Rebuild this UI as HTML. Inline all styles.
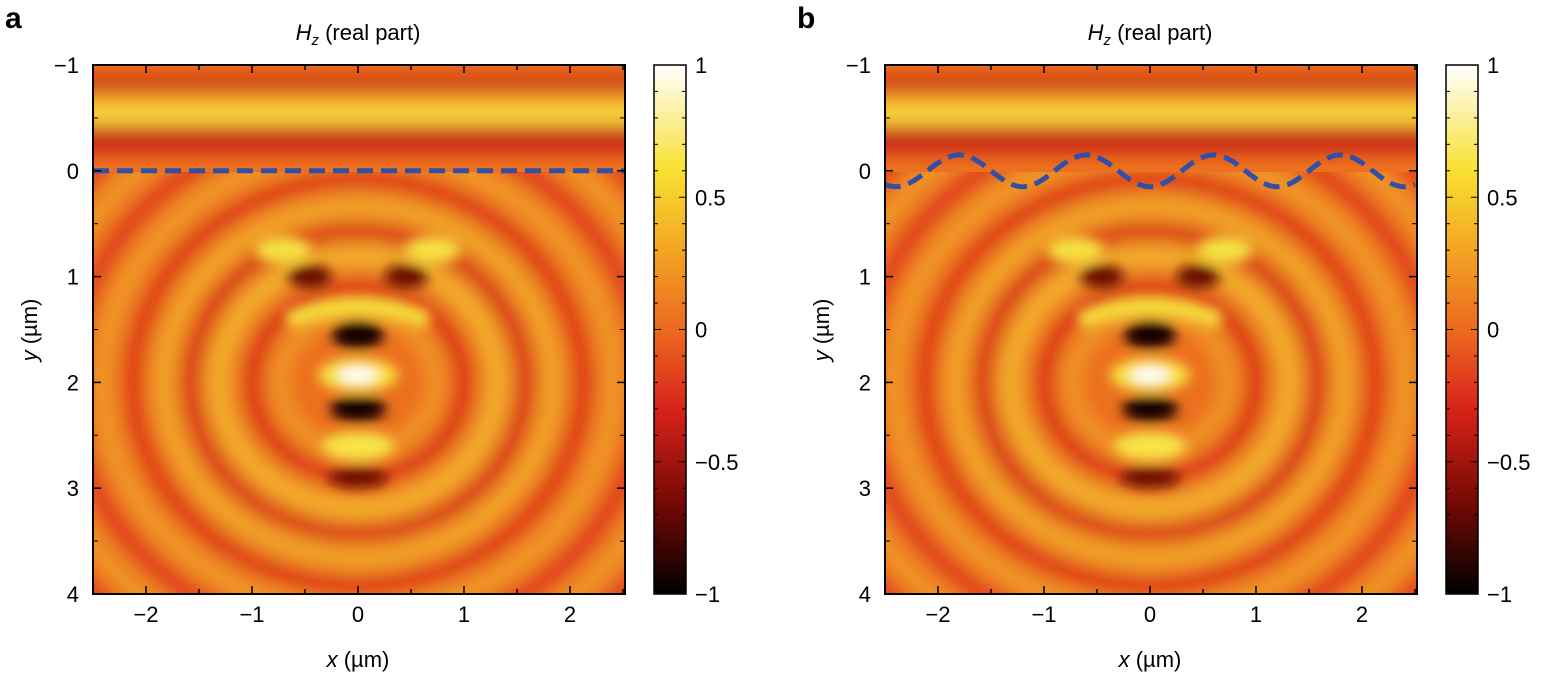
<!DOCTYPE html>
<html><head><meta charset="utf-8"><style>
body{margin:0;background:#fff;}
svg{display:block;font-family:"Liberation Sans",sans-serif;}
</style></head><body>
<svg id="s" width="1549" height="679" xmlns="http://www.w3.org/2000/svg">
<defs>
<filter id="bl" x="-20%" y="-20%" width="140%" height="140%"><feGaussianBlur stdDeviation="9"/></filter>
<filter id="bl2" x="-20%" y="-20%" width="140%" height="140%"><feGaussianBlur stdDeviation="6"/></filter>
<linearGradient id="cb" x1="0" y1="1" x2="0" y2="0">
<stop offset="0" stop-color="#000"/><stop offset="0.18" stop-color="#7a0a05"/>
<stop offset="0.35" stop-color="#d8231a"/><stop offset="0.5" stop-color="#ec6a1f"/>
<stop offset="0.65" stop-color="#f4a524"/><stop offset="0.8" stop-color="#f8e030"/>
<stop offset="1" stop-color="#fff"/></linearGradient>
<clipPath id="ca"><rect x="93" y="65" width="532" height="529"/></clipPath>
<clipPath id="cbp"><rect x="885" y="65" width="532" height="529"/></clipPath>
<clipPath id="ra"><rect x="60" y="172" width="600" height="440"/></clipPath>
<clipPath id="rb"><rect x="850" y="172" width="600" height="440"/></clipPath>
</defs>
</svg>
<script>
const S=document.getElementById('s');let h='';
function panel(X0,clip,rclip,letter,wavy){
 const sx=106,cx=X0+265,Y0=65,sy=105.8;
 const Y=v=>Y0+(v+1)*sy;
 h+=`<g clip-path="url(#${clip})"><rect x="${X0}" y="65" width="532" height="529" fill="#ec701f"/>`;
 h+=`<g clip-path="url(#${rclip})"><g filter="url(#bl)" opacity="0.8">`;
 const rings=[[0.7,'#f2a82a',16],[0.95,'#d42418',16],[1.25,'#f5c630',22],[1.5,'#d02016',16],[1.75,'#f4c02e',18],[2.02,'#d82818',16],[2.3,'#f2ac2a',18],[2.58,'#dc2c1a',16],[2.88,'#f2a82a',18],[3.15,'#de2e1a',16]];
 for(const [r,c,w] of rings){
  h+=`<ellipse cx="${cx}" cy="${Y(2)}" rx="${r*sx*1.05}" ry="${r*sy*0.95}" fill="none" stroke="${c}" stroke-width="${w}"/>`;
 }
 h+=`</g></g>`;
 h+=`<g filter="url(#bl)">`;
 h+=`<rect x="${X0-20}" y="${Y(-0.82)-5}" width="572" height="10" fill="#b8140f"/>`;
 h+=`<rect x="${X0-20}" y="${Y(-0.55)-13}" width="572" height="26" fill="#f6d63a"/>`;
 h+=`<rect x="${X0-20}" y="${Y(-0.3)-12}" width="572" height="24" fill="#c41a12"/>`;
 h+=`</g><g filter="url(#bl2)">`;
 h+=`<ellipse cx="${cx}" cy="${Y(1.55)}" rx="26" ry="14" fill="#150000"/>`;
 h+=`<ellipse cx="${cx}" cy="${Y(2.25)}" rx="28" ry="13" fill="#150000"/>`;
 h+=`<ellipse cx="${cx}" cy="${Y(1.93)}" rx="40" ry="17" fill="#f8e040"/>`;
 h+=`<ellipse cx="${cx}" cy="${Y(1.93)}" rx="20" ry="8" fill="#fff"/>`;
 h+=`<ellipse cx="${cx}" cy="${Y(2.6)}" rx="36" ry="14" fill="#f8e448"/>`;
 h+=`<ellipse cx="${cx}" cy="${Y(2.9)}" rx="30" ry="10" fill="#6a0806"/>`;
 h+=`<ellipse cx="${cx-48}" cy="${Y(1.0)}" rx="22" ry="12" fill="#6a0806"/>`;
 h+=`<ellipse cx="${cx+48}" cy="${Y(1.0)}" rx="22" ry="12" fill="#6a0806"/>`;
 h+=`<ellipse cx="${cx-75}" cy="${Y(0.75)}" rx="28" ry="14" fill="#f6e040"/>`;
 h+=`<ellipse cx="${cx+75}" cy="${Y(0.75)}" rx="28" ry="14" fill="#f6e040"/>`;
 h+=`<path d="M${cx-70},${Y(1.42)} Q${cx},${Y(1.15)} ${cx+70},${Y(1.42)}" fill="none" stroke="#f6dc3a" stroke-width="18"/>`;
 h+=`</g></g>`;
 if(!wavy) h+=`<line x1="${X0}" y1="${Y(0)}" x2="${X0+532}" y2="${Y(0)}" stroke="#2f4fa8" stroke-width="5" stroke-dasharray="16,8"/>`;
 else{let p='';for(let i=0;i<=266;i++){const xv=-2.5+i*5/266;const yv=0.15*Math.cos(2*Math.PI*(xv+1.8)/1.2)*-1;p+=(i?'L':'M')+(cx+xv*sx).toFixed(1)+','+Y(yv).toFixed(1);}
 h+=`<path d="${p}" fill="none" stroke="#2f4fa8" stroke-width="5" stroke-dasharray="16,8"/>`;}
 h+=`<rect x="${X0}" y="65" width="532" height="529" fill="none" stroke="#000" stroke-width="2"/>`;
 for(let v=-1;v<=4;v++){const y=Y(v);h+=`<line x1="${X0}" y1="${y}" x2="${X0+8}" y2="${y}" stroke="#000" stroke-width="1.5"/><line x1="${X0+532}" y1="${y}" x2="${X0+524}" y2="${y}" stroke="#000" stroke-width="1.5"/>`;
  h+=`<text x="${X0-14}" y="${y+8}" font-size="22" text-anchor="end">${v<0?'−1':v}</text>`;
  if(v<4){const y2=Y(v+0.5);h+=`<line x1="${X0}" y1="${y2}" x2="${X0+5}" y2="${y2}" stroke="#000"/><line x1="${X0+532}" y1="${y2}" x2="${X0+527}" y2="${y2}" stroke="#000"/>`;}}
 for(let v=-2.5;v<=2.5;v+=0.5){const x=cx+v*sx;const maj=Number.isInteger(v);const l=maj?8:5;
  h+=`<line x1="${x}" y1="594" x2="${x}" y2="${594-l}" stroke="#000" stroke-width="1.5"/><line x1="${x}" y1="65" x2="${x}" y2="${65+l}" stroke="#000" stroke-width="1.5"/>`;
  if(maj)h+=`<text x="${x}" y="622" font-size="22" text-anchor="middle">${v<0?'−'+(-v):v}</text>`;}
 h+=`<text x="${cx}" y="667" font-size="22" text-anchor="middle"><tspan font-style="italic">x</tspan> (µm)</text>`;
 h+=`<text transform="translate(${X0-56},330) rotate(-90)" font-size="22" text-anchor="middle"><tspan font-style="italic">y</tspan> (µm)</text>`;
 h+=`<text x="${cx}" y="40" font-size="22" text-anchor="middle"><tspan font-style="italic">H</tspan><tspan font-style="italic" font-size="15" dy="5">z</tspan><tspan dy="-5"> (real part)</tspan></text>`;
 h+=`<text x="${X0-88}" y="28" font-size="30" font-weight="bold">${letter}</text>`;
 const bx=X0+561;
 h+=`<rect x="${bx}" y="65" width="32" height="529" fill="url(#cb)" stroke="#000" stroke-width="1.5"/>`;
 const lab=['1','0.5','0','−0.5','−1'];
 for(let i=0;i<5;i++){const y=65+i*132.25;h+=`<text x="${bx+41}" y="${y+8}" font-size="22">${lab[i]}</text>`;}
 for(let i=1;i<20;i++){const y=65+i*26.45;const l=i%5==0?7:4;h+=`<line x1="${bx}" y1="${y}" x2="${bx+l}" y2="${y}" stroke="#000"/><line x1="${bx+32}" y1="${y}" x2="${bx+32-l}" y2="${y}" stroke="#000"/>`;}
}
panel(93,'ca','ra','a',false);
panel(885,'cbp','rb','b',true);
S.innerHTML+=h;
</script>
</body></html>
